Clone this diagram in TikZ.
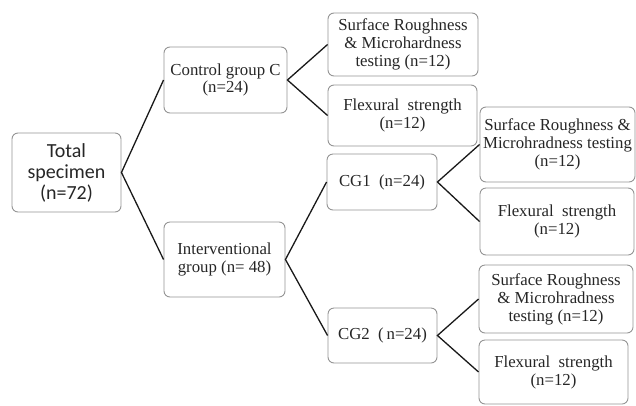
\documentclass[tikz,border=0pt]{standalone}
\usepackage{fontspec}
\setmainfont{Liberation Serif}
\newfontfamily\tnr{Liberation Serif}
\newfontfamily\calib{Carlito}
\begin{document}
\begin{tikzpicture}[x=1pt,y=-1pt,
  box/.style={draw=black!42,line width=0.9pt,rounded corners=6pt,inner sep=0pt,align=center,
    font=\tnr\fontsize{16.8}{18}\selectfont,text=black!85},
  link/.style={draw=black!90,line width=1.3pt}]
\useasboundingbox (0,0) rectangle (636,405);
\node[box,minimum width=109,minimum height=79,font=\calib\fontsize{20}{21}\selectfont] (total) at (66.5,172.5) {Total\\specimen\\(n=72)};
\node[box,minimum width=123,minimum height=66,font=\tnr\fontsize{16.8}{17}\selectfont] (control) at (225.5,80) {Control group C\\(n=24)};
\node[box,minimum width=150,minimum height=63] (sr1) at (403,44.5) {Surface Roughness\\\& Microhardness\\testing (n=12)};
\node[box,minimum width=149,minimum height=61] (fl1) at (402.5,115.5) {Flexural\ \ strength\\(n=12)};
\node[box,minimum width=121,minimum height=75] (interv) at (224.5,259.5) {Interventional\\group (n= 48)};
\node[box,minimum width=110,minimum height=56] (cg1) at (382,182) {CG1\ \ (n=24)};
\node[box,minimum width=109,minimum height=55] (cg2) at (382.5,335.5) {CG2\ \ (\,n=24)};
\node[box,minimum width=155,minimum height=75] (sr2) at (557.5,144.5) {Surface Roughness \&\\Microhradness testing\\(n=12)};
\node[box,minimum width=154,minimum height=67] (fl2) at (557,221.5) {Flexural\ \ strength\\(n=12)};
\node[box,minimum width=154,minimum height=68] (sr3) at (556,299) {Surface Roughness\\\& Microhradness\\testing (n=12)};
\node[box,minimum width=149,minimum height=64] (fl3) at (553.5,372) {Flexural\ \ strength\\(n=12)};
\draw[link] (control.west) -- (total.east) -- (interv.west);
\draw[link] (sr1.west) -- (control.east) -- (fl1.west);
\draw[link] (cg1.west) -- (interv.east) -- (cg2.west);
\draw[link] (sr2.west) -- (cg1.east) -- (fl2.west);
\draw[link] (sr3.west) -- (cg2.east) -- (fl3.west);
\end{tikzpicture}
\end{document}
